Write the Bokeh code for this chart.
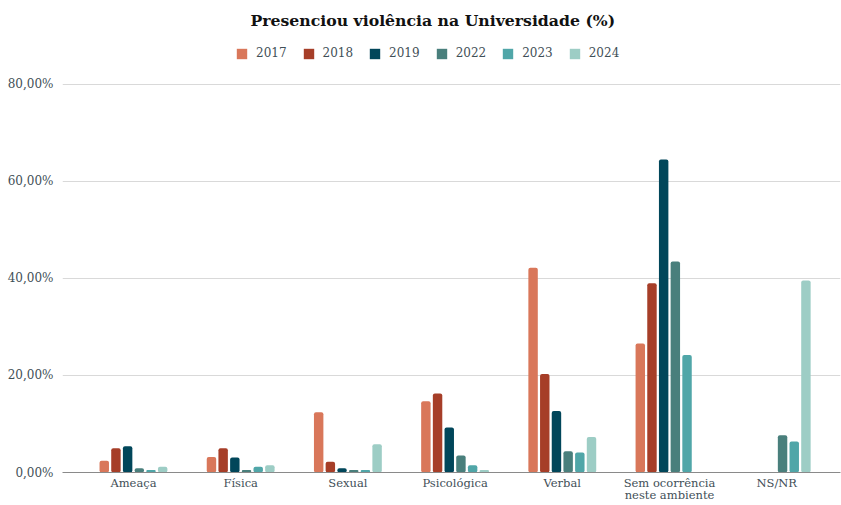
import math
from bokeh.plotting import figure
from bokeh.models import (ColumnDataSource, Range1d, FixedTicker, Legend, LegendItem, Title)
from bokeh.embed import file_html
from bokeh.resources import INLINE

# ---------------- data ----------------
categories = ["Ameaça", "Física", "Sexual", "Psicológica", "Verbal",
              "Sem ocorrência\nneste ambiente", "NS/NR"]
years = ["2017", "2018", "2019", "2022", "2023", "2024"]
v2017 = [2.4, 3.2, 12.4, 14.7, 42.2, 26.6, None]
v2018 = [5.0, 5.0, 2.2, 16.3, 20.3, 39.0, None]
v2019 = [5.4, 3.1, 0.9, 9.3, 12.7, 64.5, None]
v2022 = [0.9, 0.5, 0.5, 3.5, 4.4, 43.5, 7.7]
v2023 = [0.5, 1.2, 0.5, 1.5, 4.1, 24.2, 6.4]
v2024 = [1.2, 1.5, 5.8, 0.5, 7.3, None, 39.6]
colors = ["#d9775a", "#a63e28", "#01465a", "#497f7c", "#50a6a8", "#9dcdc5"]
y_ticks = [0, 20, 40, 60, 80]

series = [v2017, v2018, v2019, v2022, v2023, v2024]

FONT = "DejaVu Serif"
TEXT = "#3f4f57"

p = figure(width=841, height=505, output_backend="svg", toolbar_location=None,
           x_range=Range1d(-0.662, 6.595), y_range=Range1d(0, 89.46),
           min_border_left=62, min_border_right=1, min_border_top=38,
           min_border_bottom=20)
p.title = Title(text="Presenciou violência na Universidade (%)", align="left",
                offset=183, text_font=FONT, text_font_size="15.7px",
                text_font_style="bold", text_color="#111111", standoff=7,
                padding=5)

pitch = 0.109
bw = 0.088
items = []
for k, (yr, vals, col) in enumerate(zip(years, series, colors)):
    off = (k - (len(years) - 1) / 2) * pitch
    xs = [i + off for i in range(len(categories))]
    tops = [float("nan") if v is None else v for v in vals]
    src = ColumnDataSource(dict(x=xs, top=tops))
    r = p.vbar(x="x", top="top", bottom=0, width=bw, source=src, fill_color=col,
               line_color=None, border_radius=2)
    items.append(LegendItem(label=yr, renderers=[r]))

legend = Legend(items=items, orientation="horizontal", location=(173, 412),
                glyph_width=13, glyph_height=13, label_standoff=8, spacing=15,
                label_text_font=FONT, label_text_font_size="12px",
                label_text_color=TEXT, border_line_color=None,
                background_fill_alpha=0, padding=4, margin=0)
p.add_layout(legend, "center")

# axes
p.xaxis.ticker = FixedTicker(ticks=list(range(len(categories))))
p.xaxis.major_label_overrides = {i: c for i, c in enumerate(categories)}
p.xaxis.major_label_text_font = FONT
p.xaxis.major_label_text_font_size = "11.5px"
p.xaxis.major_label_text_color = TEXT
p.xaxis.major_label_text_line_height = 0.9
p.xaxis.major_label_standoff = 3
p.xaxis.major_tick_out = 0
p.xaxis.major_tick_in = 0
p.xaxis.axis_line_color = "#8a8a8a"
p.xaxis.major_tick_line_color = None
p.xaxis.minor_tick_line_color = None

p.yaxis.ticker = FixedTicker(ticks=y_ticks)
p.yaxis.major_label_overrides = {t: f"{t:.2f}%".replace(".", ",") for t in y_ticks}
p.yaxis.major_label_text_font = FONT
p.yaxis.major_label_text_font_size = "12px"
p.yaxis.major_label_text_color = TEXT
p.yaxis.major_label_standoff = 9
p.yaxis.major_tick_out = 0
p.yaxis.major_tick_in = 0
p.yaxis.axis_line_color = None
p.yaxis.major_tick_line_color = None
p.yaxis.minor_tick_line_color = None

p.xgrid.grid_line_color = None
p.ygrid.grid_line_color = "#d9d9d9"
p.ygrid.grid_line_width = 1
p.outline_line_color = None
p.background_fill_color = "white"
p.border_fill_color = "white"

open("out.html", "w").write(file_html(p, INLINE))
